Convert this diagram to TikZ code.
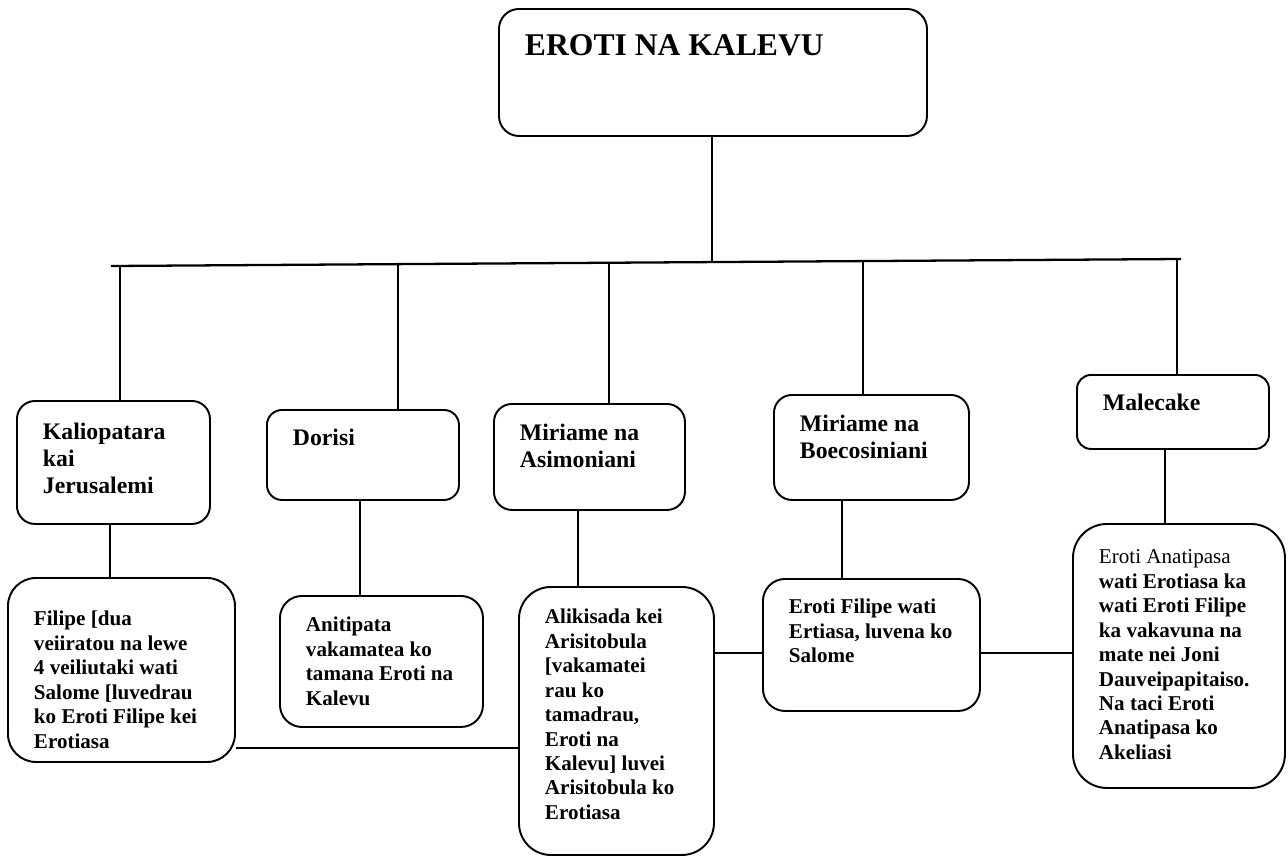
\documentclass[tikz,border=0pt]{standalone}
\usepackage{fontspec}
\setmainfont{Liberation Serif}
\newlength\pxu
\setlength\pxu{0.02cm}
\newcommand{\cardtext}[4]{\parbox[t][#2\pxu][t]{\dimexpr #1\pxu-52\pxu\relax}{\raggedright\rule{0pt}{#3\pxu}#4}}
\tikzstyle{card} = [draw, line width=1.1pt, rounded corners=18\pxu, anchor=north west, inner xsep=26\pxu, inner ysep=0pt]
\tikzstyle{toprow} = [card, font=\fontsize{13.5}{15.3}\selectfont\bfseries]
\tikzstyle{lowrow} = [card, rounded corners=28\pxu, font=\fontsize{12}{13.9}\selectfont\bfseries]
\tikzstyle{link} = [line width=0.9pt]

\begin{document}
\begin{tikzpicture}[x=0.02cm, y=-0.02cm]
                \useasboundingbox (0,0) rectangle (1288,856);
                \node[card, rounded corners=20\pxu, font=\fontsize{18}{21}\selectfont\bfseries] (herod) at (498,8) {\cardtext{428}{127}{47}{EROTI NA KALEVU}};
                \node[toprow] (kal) at (16,400) {\cardtext{193}{123}{39}{Kaliopatara\\kai\\Jerusalemi}};
                \node[toprow, rounded corners=15\pxu] (dor) at (266,409) {\cardtext{192}{90}{36}{Dorisi}};
                \node[toprow] (asim) at (493,403) {\cardtext{191}{106}{37}{Miriame na\\Asimoniani}};
                \node[toprow] (boec) at (773,394) {\cardtext{195}{105}{37}{Miriame na\\Boecosiniani}};
                \node[toprow, rounded corners=14\pxu] (male) at (1076,374) {\cardtext{192}{74}{36}{Malecake}};
                \node[lowrow] (filipe) at (7,577) {\cardtext{227}{184}{48}{Filipe [dua\\veiiratou na lewe\\4 veiliutaki wati\\Salome [luvedrau\\ko Eroti Filipe kei\\Erotiasa}};
                \node[lowrow, rounded corners=22\pxu] (anit) at (279,595) {\cardtext{203}{131}{36}{Anitipata\\vakamatea ko\\tamana Eroti na\\Kalevu}};
                \node[lowrow, rounded corners=32\pxu] (alik) at (518,586) {\cardtext{195}{268}{37}{Alikisada kei\\Arisitobula\\{[}vakamatei\\rau ko\\tamadrau,\\Eroti na\\Kalevu] luvei\\Arisitobula ko\\Erotiasa}};
                \node[lowrow, rounded corners=22\pxu] (erofil) at (762,578) {\cardtext{217}{132}{35}{Eroti Filipe wati\\Ertiasa, luvena ko\\Salome}};
                \node[lowrow, rounded corners=34\pxu] (anati) at (1072,523) {\cardtext{212}{264}{40}{{\mdseries Eroti Anatipasa}\\wati Erotiasa ka\\wati Eroti Filipe\\ka vakavuna na\\mate nei Joni\\Dauveipapitaiso.\\Na taci Eroti\\Anatipasa ko\\Akeliasi}};
                \coordinate (busL) at (111,266);
                \coordinate (busR) at (1181,259);
                \coordinate (d0) at (712,261.5);
                \coordinate (d1) at (120,265.9);
                \coordinate (d2) at (398,264);
                \coordinate (d3) at (609,262.3);
                \coordinate (d4) at (863,260.4);
                \coordinate (d5) at (1177,258.6);
                \coordinate (s1) at (110,0);
                \coordinate (s2) at (360,0);
                \coordinate (s3) at (578,0);
                \coordinate (s4) at (842,0);
                \coordinate (s5) at (1165,0);
                \coordinate (h1) at (0,748);
                \coordinate (h2) at (0,653);
                \draw[line width=1.3pt] (busL) -- (busR);
                \draw[link] (herod.south -| d0) -- (d0);
                \draw[link] (d1) -- (d1 |- kal.north);
                \draw[link] (d2) -- (d2 |- dor.north);
                \draw[link] (d3) -- (d3 |- asim.north);
                \draw[link] (d4) -- (d4 |- boec.north);
                \draw[link] (d5) -- (d5 |- male.north);
                \draw[link] (kal.south -| s1) -- (filipe.north -| s1);
                \draw[link] (dor.south -| s2) -- (anit.north -| s2);
                \draw[link] (asim.south -| s3) -- (alik.north -| s3);
                \draw[link] (boec.south -| s4) -- (erofil.north -| s4);
                \draw[link] (male.south -| s5) -- (anati.north -| s5);
                \draw[link] (filipe.east |- h1) -- (alik.west |- h1);
                \draw[link] (alik.east |- h2) -- (erofil.west |- h2);
                \draw[link] (erofil.east |- h2) -- (anati.west |- h2);
             \end{tikzpicture}
\end{document}
